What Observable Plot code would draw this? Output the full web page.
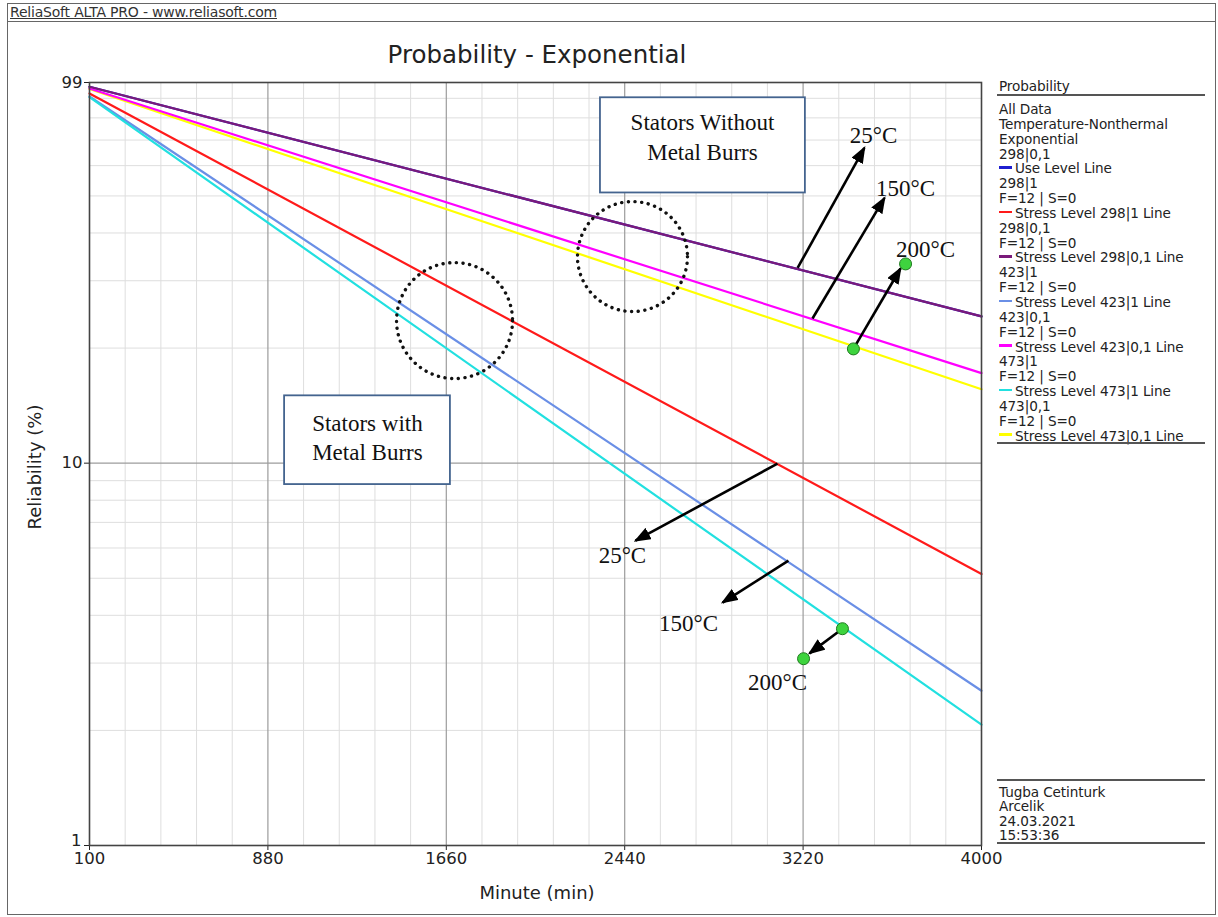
<!DOCTYPE html>
<html><head><meta charset="utf-8">
<script src="https://cdn.jsdelivr.net/npm/d3@7"></script>
<script src="https://cdn.jsdelivr.net/npm/@observablehq/plot@0.6"></script>
<style>
body{margin:0;background:#fff;}
#wrap{position:relative;width:1218px;height:917px;overflow:hidden;font-family:"DejaVu Sans",sans-serif;color:#222;background:#fff;}
.abs{position:absolute;white-space:nowrap;}
#chart{position:absolute;left:0;top:0;}
.lg{position:absolute;left:999px;font-size:13.6px;line-height:14.85px;white-space:nowrap;color:#222;letter-spacing:-0.1px;}
.row{height:14.85px;position:relative;}
.frow{height:14.3px;line-height:14.3px;}
.sw{display:inline-block;width:13px;height:2.5px;vertical-align:middle;margin-right:3px;position:relative;top:-2px;}
.sep{position:absolute;left:997px;width:208px;height:0;border-top:2px solid #555;}
</style></head>
<body><div id="wrap">
<div class="abs" style="left:7px;top:3px;width:1207px;height:910px;border:1px solid #666;"></div>
<div class="abs" style="left:7px;top:21px;width:1208px;height:0;border-top:1px solid #666;"></div>
<div class="abs" style="left:10px;top:4px;font-size:14px;line-height:16px;text-decoration:underline;color:#333;letter-spacing:-0.2px;">ReliaSoft ALTA PRO - www.reliasoft.com</div>
<div class="abs" style="left:0;width:1074px;top:39px;text-align:center;font-size:24.5px;line-height:32px;color:#222;">Probability - Exponential</div>
<div id="chart"></div>
<div class="abs" style="left:0;width:1074px;top:880px;text-align:center;font-size:18px;line-height:26px;">Minute (min)</div>
<div class="abs" style="left:35px;top:467px;transform:translate(-50%,-50%) rotate(-90deg);font-size:18px;line-height:24px;">Reliability (%)</div>
<div class="lg" style="top:79px;"><div class="row">Probability</div></div>
<div class="sep" style="top:94px;"></div>
<div class="lg" id="legend" style="top:102px;"></div>
<div class="sep" style="top:442px;"></div>
<div class="sep" style="top:779px;"></div>
<div class="lg" id="footer" style="top:785px;line-height:14.3px;"></div>
<div class="sep" style="top:842px;"></div>
</div>
<script>
// ---- data ----
const series = ["Use Level Line","Stress Level 298|1 Line","Stress Level 298|0,1 Line","Stress Level 423|1 Line","Stress Level 423|0,1 Line","Stress Level 473|1 Line","Stress Level 473|0,1 Line"];
const seriesColors = ["#1f1fd0","#ff1a1a","#7a1a7a","#6a8fe6","#ff00ff","#22e0e0","#ffff00"];
const levelLabels = ["298|0,1","298|1","298|0,1","423|1","423|0,1","473|1","473|0,1"];
const failText = "F=12 | S=0";
const legendHead = ["All Data","Temperature-Nonthermal","Exponential"];
const footerLines = ["Tugba Cetinturk","Arcelik","24.03.2021","15:53:36"];
const timeEnds = [100, 4000];
const relAtStart = [96.5, 92.7, 96.5, 91.0, 95.5, 90.6, 95.2];
const relAtEnd = [24.2, 5.13, 24.2, 2.54, 17.2, 2.07, 15.6];
const drawOrder = [0, 1, 3, 5, 6, 4, 2];

const xTicks = [100, 880, 1660, 2440, 3220, 4000];
const xMajorGrid = [880, 1660, 2440, 3220];
const xMinor = [256, 412, 568, 724, 1036, 1192, 1348, 1504, 1816, 1972, 2128, 2284, 2596, 2752, 2908, 3064, 3376, 3532, 3688, 3844];
const yTicks = [1, 10, 99];
const yTicksUpper = [10, 99];
const yTicksBottom = [1];
const yMajorGrid = [10];
const yMinor = [2, 3, 4, 5, 6, 7, 8, 9, 20, 30, 40, 50, 60, 70, 80, 90];

// annotations
const boxT1 = [2334, 953], boxT2 = [3230, 1678], boxR1 = [50.9, 8.79], boxR2 = [90.3, 15.0];
const boxLines = ["Stators Without","Metal Burrs","Stators with","Metal Burrs"];
const boxLineT = [2780, 2780, 1315, 1315];
const boxLineR = [77.7, 64.8, 12.69, 10.65];
const circleA = {t: 2474, R: 34.7};
const circleB = {t: 1696, R: 23.6};
const arrowFromT = [3196, 3261, 3440, 3108, 3156, 3392];
const arrowFromR = [32.4, 23.9, 19.9, 9.97, 5.56, 3.69];
const arrowToT = [3488, 3576, 3646, 2487, 2868, 3248];
const arrowToR = [66.8, 49.4, 32.3, 6.27, 4.32, 3.18];
const tempLabels = ["25°C","150°C","200°C","25°C","150°C","200°C"];
const tempLabelT = [3528, 3668, 3755, 2430, 2719, 3108];
const tempLabelR = [71.8, 52.2, 36.1, 5.73, 3.81, 2.67];
const markT = [3440, 3668, 3392, 3222];
const markR = [19.9, 33.2, 3.69, 3.08];

// ---- tables ----
const lineRows = drawOrder.flatMap(i => [
  {series: series[i], t: timeEnds[0], R: relAtStart[i]},
  {series: series[i], t: timeEnds[1], R: relAtEnd[i]}
]);
const boxes = boxT1.map((_, i) => ({t1: boxT1[i], t2: boxT2[i], r1: boxR1[i], r2: boxR2[i]}));
const boxText = boxLines.map((s, i) => ({s, t: boxLineT[i], R: boxLineR[i]}));
const arrows = arrowFromT.map((_, i) => ({t1: arrowFromT[i], r1: arrowFromR[i], t2: arrowToT[i], r2: arrowToR[i]}));
const temps = tempLabels.map((s, i) => ({s, t: tempLabelT[i], R: tempLabelR[i]}));
const marksG = markT.map((t, i) => ({t, R: markR[i]}));

const serif = "Liberation Serif, Times New Roman, serif";
const fmt = d => String(d);
const plot = Plot.plot({
  width: 1218, height: 917,
  marginLeft: 89, marginRight: 237, marginTop: 82, marginBottom: 72,
  style: {fontFamily: "DejaVu Sans, sans-serif", fontSize: "16.5px", color: "#222", background: "transparent", overflow: "visible"},
  x: {domain: [100, 4000], label: null},
  y: {type: "log", domain: [1, 99], label: null},
  color: {domain: series, range: seriesColors},
  marks: [
    Plot.ruleX(xMinor, {stroke: "#dedede", strokeWidth: 1}),
    Plot.ruleY(yMinor, {stroke: "#dedede", strokeWidth: 1}),
    Plot.ruleX(xMajorGrid, {stroke: "#9c9c9c", strokeWidth: 1.2}),
    Plot.ruleY(yMajorGrid, {stroke: "#9c9c9c", strokeWidth: 1.2}),
    Plot.axisX({ticks: xTicks, tickFormat: fmt, tickSize: 5, tickPadding: 2, label: null}),
    Plot.axisY({ticks: yTicks, tickFormat: d => (yTicksUpper.includes(d) ? String(d) : ""), tickSize: 5, tickPadding: 2, label: null}),
    Plot.axisY({ticks: yTicksBottom, tickFormat: fmt, tickSize: 0, tickPadding: 8, dy: -5, label: null}),
    Plot.line(lineRows, {x: "t", y: "R", z: "series", stroke: "series", strokeWidth: 2.2}),
    Plot.dot([circleA], {x: "t", y: "R", r: 55, fill: "none", stroke: "#111", strokeWidth: 3.4, strokeDasharray: "0.1 6.6", strokeLinecap: "round"}),
    Plot.dot([circleB], {x: "t", y: "R", r: 58, fill: "none", stroke: "#111", strokeWidth: 3.4, strokeDasharray: "0.1 6.6", strokeLinecap: "round"}),
    Plot.rect(boxes, {x1: "t1", x2: "t2", y1: "r1", y2: "r2", fill: "white", stroke: "#44648f", strokeWidth: 1.8}),
    Plot.text(boxText, {x: "t", y: "R", text: "s", fontFamily: serif, fontSize: 23, fill: "#111"}),
    Plot.link(arrows, {x1: "t1", y1: "r1", x2: "t2", y2: "r2", stroke: "#000", strokeWidth: 2.6}),
    Plot.dot(marksG, {x: "t", y: "R", r: 6, fill: "#3ed43e", stroke: "#1f7a1f", strokeWidth: 1}),
    Plot.text(temps, {x: "t", y: "R", text: "s", fontFamily: serif, fontSize: 23, fill: "#111"}),
    Plot.frame({stroke: "#444", strokeWidth: 1.6})
  ]
});
document.getElementById("chart").appendChild(plot);

// filled arrowheads on the link paths
const svg = d3.select(plot);
const m = svg.append("defs").append("marker")
  .attr("id", "ahead").attr("viewBox", "0 0 17 13").attr("markerWidth", 17).attr("markerHeight", 13)
  .attr("refX", 15).attr("refY", 6.5).attr("orient", "auto").attr("markerUnits", "userSpaceOnUse");
m.append("path").attr("d", "M0,0 L17,6.5 L0,13 Z").attr("fill", "#000");
svg.selectAll('g[aria-label="link"] path').attr("marker-end", "url(#ahead)");

// legend
const lg = document.getElementById("legend");
const addRow = (text, color) => {
  const r = document.createElement("div");
  r.className = "row";
  if (color) {
    const s = document.createElement("span");
    s.className = "sw"; s.style.background = color;
    r.appendChild(s);
  }
  r.appendChild(document.createTextNode(text));
  lg.appendChild(r);
};
legendHead.forEach(t => addRow(t));
series.forEach((s, i) => {
  addRow(levelLabels[i]);
  if (i > 0) addRow(failText);
  addRow(s, seriesColors[i]);
});
const ft = document.getElementById("footer");
footerLines.forEach(t => { const d = document.createElement("div"); d.className = "frow"; d.textContent = t; ft.appendChild(d); });
</script>
</body></html>
